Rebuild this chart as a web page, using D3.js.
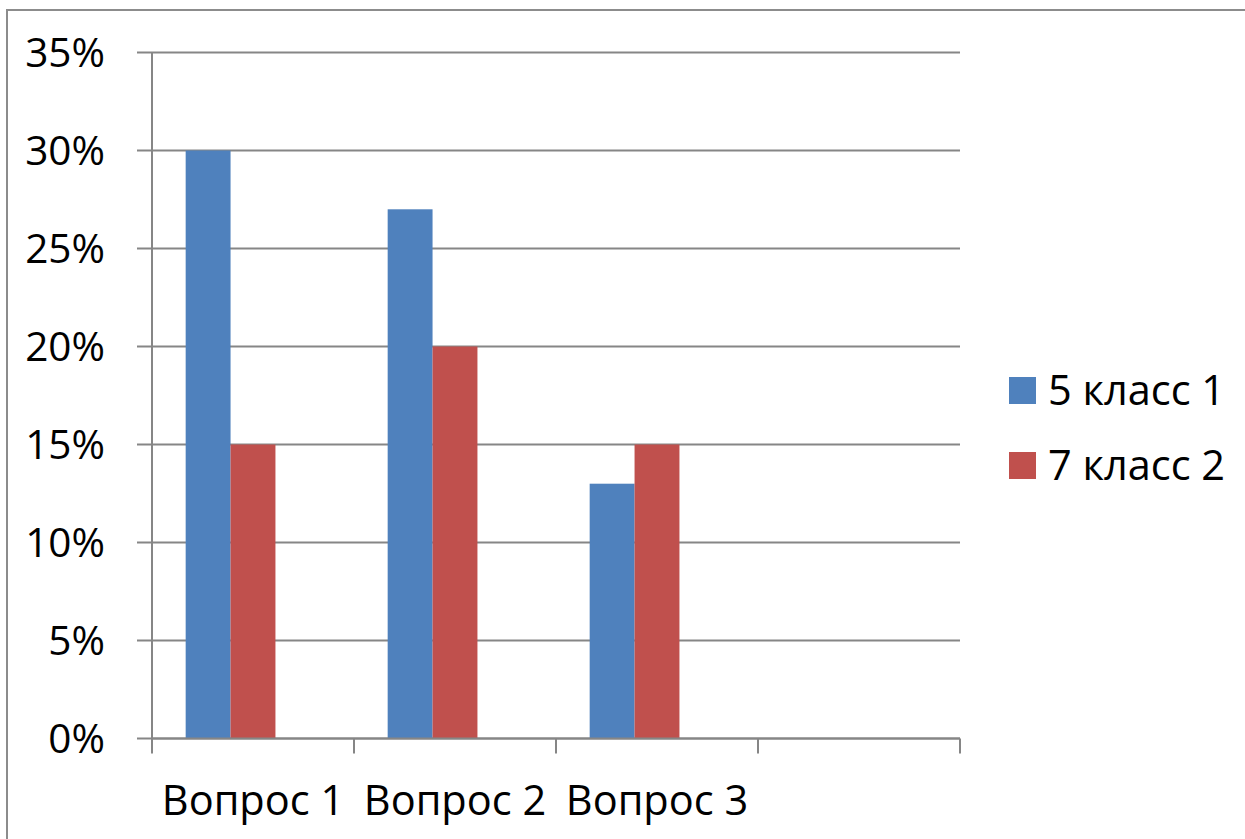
<!DOCTYPE html>
<html>
<head>
<meta charset="utf-8">
<script src="https://cdn.jsdelivr.net/npm/d3@7"></script>
<style>
  html, body { margin: 0; padding: 0; background: #fff; }
  svg { display: block; }
  text { font-family: "Open Sans", "Liberation Sans", sans-serif; fill: #000; }
</style>
</head>
<body>
<svg id="chart" width="1245" height="839"></svg>
<script>
// Categories (the fourth slot is an empty category in the source sheet)
const categories = ["Вопрос 1", "Вопрос 2", "Вопрос 3", ""];
// Series names and values (shares)
const seriesNames = ["5 класс 1", "7 класс 2"];
const series1 = [0.30, 0.27, 0.13, null];
const series2 = [0.15, 0.20, 0.15, null];
const seriesColors = ["#4F81BD", "#C0504D"];
// Value-axis tick labels
const yTicks = [0, 0.05, 0.10, 0.15, 0.20, 0.25, 0.30, 0.35];

const svg = d3.select("#chart");
const W = 1245, H = 839;
const plot = { left: 152, right: 960, top: 52.5, bottom: 738.5 };

svg.append("rect").attr("width", W).attr("height", H).attr("fill", "#fff");

// chart-area frame (runs off the right and bottom edges)
svg.append("path")
  .attr("d", `M7,${H + 5} L7,10 L${W + 5},10`)
  .attr("fill", "none").attr("stroke", "#8c8c8c").attr("stroke-width", 2);

const y = d3.scaleLinear().domain([0, 0.35]).range([plot.bottom, plot.top]);
const x = d3.scaleBand().domain(d3.range(categories.length)).range([plot.left, plot.right]).padding(0);
// three slots per category (third slot unused), gap width 150%
const slots = ["s0", "s1", "s2"];
const xs = d3.scaleBand().domain(slots).range([0, x.bandwidth()]).paddingInner(0).paddingOuter(0.75);

const grid = "#868686";

// horizontal gridlines with left tick marks
svg.append("g").selectAll("line").data(yTicks).join("line")
  .attr("x1", plot.left - 15).attr("x2", plot.right)
  .attr("y1", d => y(d)).attr("y2", d => y(d))
  .attr("stroke", grid).attr("stroke-width", 2);

// value axis line
svg.append("line")
  .attr("x1", plot.left).attr("x2", plot.left)
  .attr("y1", plot.top).attr("y2", plot.bottom)
  .attr("stroke", grid).attr("stroke-width", 2);

// value labels
svg.append("g").selectAll("text").data(yTicks).join("text")
  .attr("x", 105).attr("y", d => y(d) + 14)
  .attr("text-anchor", "end")
  .style("font-size", "40.5px")
  .text(d => d3.format(".0%")(d));

// bars
const values = [series1, series2];
values.forEach((vals, si) => {
  svg.append("g").selectAll("rect")
    .data(vals.map((v, i) => ({ v, i })).filter(d => d.v != null))
    .join("rect")
    .attr("x", d => x(d.i) + xs(slots[si]))
    .attr("width", xs.bandwidth())
    .attr("y", d => y(d.v))
    .attr("height", d => y(0) - y(d.v))
    .attr("fill", seriesColors[si]);
});

// category axis baseline and tick marks at band boundaries
const boundaries = d3.range(categories.length + 1).map(i => plot.left + i * x.step());
svg.append("line")
  .attr("x1", plot.left).attr("x2", plot.right)
  .attr("y1", plot.bottom).attr("y2", plot.bottom)
  .attr("stroke", grid).attr("stroke-width", 2);
svg.append("g").selectAll("line").data(boundaries).join("line")
  .attr("x1", d => d).attr("x2", d => d)
  .attr("y1", plot.bottom).attr("y2", plot.bottom + 15)
  .attr("stroke", grid).attr("stroke-width", 2);

// category labels
svg.append("g").selectAll("text").data(categories).join("text")
  .attr("x", (d, i) => x(i) + x.bandwidth() / 2)
  .attr("y", 815)
  .attr("text-anchor", "middle")
  .style("font-size", "41.5px")
  .text(d => d);

// legend
const legend = svg.append("g");
seriesNames.forEach((name, i) => {
  const by = 377 + i * 75;
  legend.append("rect").attr("x", 1009).attr("y", by).attr("width", 27).attr("height", 27)
    .attr("fill", seriesColors[i]);
  legend.append("text").attr("x", 1048).attr("y", by + 28)
    .style("font-size", "41.5px").text(name);
});
</script>
</body>
</html>
